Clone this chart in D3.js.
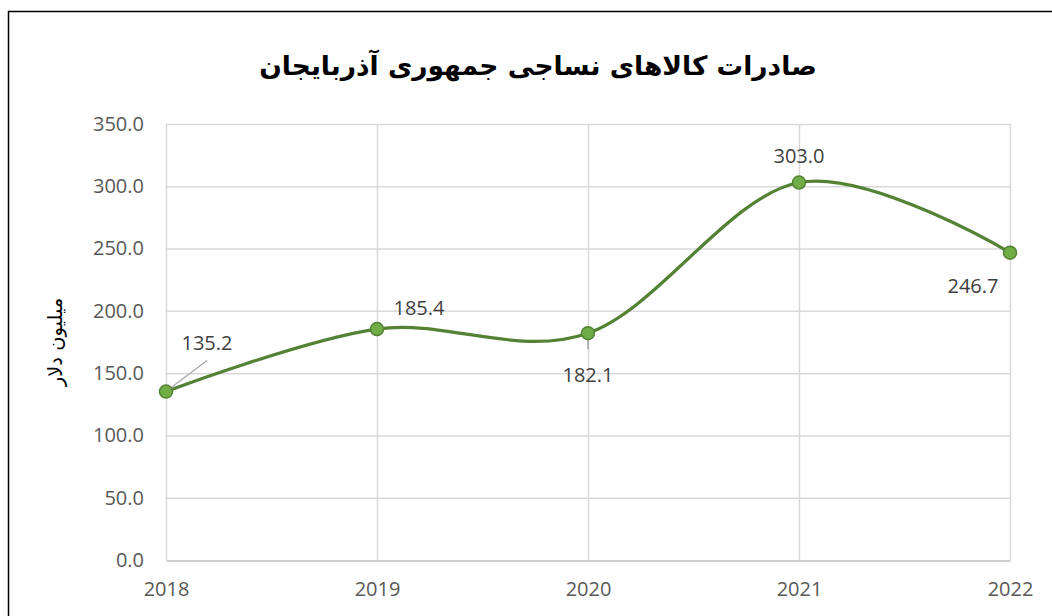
<!DOCTYPE html>
<html>
<head>
<meta charset="utf-8">
<script src="https://cdn.jsdelivr.net/npm/d3@7"></script>
<style>
  body { margin: 0; background: #fff; }
  svg { display: block; }
</style>
</head>
<body>
<script>
const years = ['2018', '2019', '2020', '2021', '2022'];
const exportsVal = [135.2, 185.4, 182.1, 303.0, 246.7];
const yTicks = [0, 50, 100, 150, 200, 250, 300, 350];
const title = 'صادرات کالاهای نساجی جمهوری آذربایجان';
const yTitle = 'میلیون دلار';

const w = 1052, h = 616;
const plotLeft = 166, plotRight = 1010, plotTop = 124, plotBottom = 560;

const svg = d3.select('body').append('svg')
    .attr('width', w)
    .attr('height', h);

// chart frame (extends past bottom/right of the picture)
svg.append('rect')
    .attr('x', 8.5).attr('y', 11.5)
    .attr('width', 1100).attr('height', 700)
    .attr('fill', '#fff')
    .attr('stroke', '#000')
    .attr('stroke-width', 1.5);

const xScale = d3.scalePoint()
    .domain(years)
    .range([plotLeft, plotRight]);
const yScale = d3.scaleLinear()
    .domain([0, 350])
    .range([plotBottom, plotTop]);

// grid
svg.append('g')
    .selectAll('line')
    .data(yTicks.slice(1))
    .enter().append('line')
    .attr('x1', plotLeft).attr('x2', plotRight)
    .attr('y1', d => yScale(d) + 0.5).attr('y2', d => yScale(d) + 0.5)
    .attr('stroke', '#d9d9d9')
    .attr('stroke-width', 1.5);
svg.append('g')
    .selectAll('line')
    .data(years)
    .enter().append('line')
    .attr('x1', d => xScale(d) + 0.5).attr('x2', d => xScale(d) + 0.5)
    .attr('y1', plotTop).attr('y2', plotBottom)
    .attr('stroke', '#d9d9d9')
    .attr('stroke-width', 1.5);

// axes
const xAxis = d3.axisBottom(xScale).tickSize(0).tickPadding(21);
const gx = svg.append('g')
    .attr('transform', 'translate(0,' + (plotBottom + 0.5) + ')')
    .call(xAxis);
gx.select('.domain').attr('stroke', '#bfbfbf').attr('stroke-width', 1.5);

const yAxis = d3.axisLeft(yScale)
    .tickValues(yTicks)
    .tickFormat(d3.format('.1f'))
    .tickSize(0)
    .tickPadding(22);
const gy = svg.append('g')
    .attr('transform', 'translate(' + plotLeft + ',0)')
    .call(yAxis);
gy.select('.domain').remove();

svg.selectAll('.tick text')
    .attr('fill', '#595959')
    .style('font-family', '"Open Sans", sans-serif')
    .style('font-size', '20px');
gx.selectAll('.tick text').attr('dy', '0.71em');

// title
svg.append('text')
    .attr('x', 538).attr('y', 75)
    .attr('text-anchor', 'middle')
    .attr('direction', 'rtl')
    .style('font-family', '"DejaVu Sans", sans-serif')
    .style('font-weight', 'bold')
    .style('font-size', '26.5px')
    .text(title);

svg.append('text')
    .attr('transform', 'translate(62,342) rotate(-90)')
    .attr('text-anchor', 'middle')
    .attr('direction', 'rtl')
    .style('font-family', '"DejaVu Sans", sans-serif')
    .style('font-size', '19.5px')
    .text(yTitle);

// line
const line = d3.line()
    .x((d, i) => xScale(years[i]))
    .y(d => yScale(d))
    .curve(d3.curveCardinal.tension(0));

svg.append('path')
    .datum(exportsVal)
    .attr('d', line)
    .attr('fill', 'none')
    .attr('stroke', '#548235')
    .attr('stroke-width', 3.2);

// leader lines
const px = i => xScale(years[i]);
const py = i => yScale(exportsVal[i]);
svg.append('line')
    .attr('x1', px(0)).attr('y1', py(0))
    .attr('x2', px(0) + 41).attr('y2', py(0) - 31)
    .attr('stroke', '#a6a6a6').attr('stroke-width', 1.2);
svg.append('line')
    .attr('x1', px(2)).attr('y1', py(2))
    .attr('x2', px(2)).attr('y2', py(2) + 16)
    .attr('stroke', '#a6a6a6').attr('stroke-width', 1.5);

svg.selectAll('circle')
    .data(exportsVal)
    .enter().append('circle')
    .attr('cx', (d, i) => xScale(years[i]))
    .attr('cy', d => yScale(d))
    .attr('r', 6.5)
    .attr('fill', '#70ad47')
    .attr('stroke', '#548235')
    .attr('stroke-width', 1.5);

// data labels (offset from point)
const labelOffsets = [[41, -49], [42, -21], [0, 42], [0, -27], [-37, 33]];
svg.selectAll('.lbl')
    .data(exportsVal)
    .enter().append('text')
    .attr('class', 'lbl')
    .attr('x', (d, i) => xScale(years[i]) + labelOffsets[i][0])
    .attr('y', (d, i) => yScale(d) + labelOffsets[i][1])
    .attr('dy', '0.35em')
    .attr('text-anchor', 'middle')
    .attr('fill', '#404040')
    .style('font-family', '"Open Sans", sans-serif')
    .style('font-size', '20px')
    .text(d => d3.format('.1f')(d));
</script>
</body>
</html>
